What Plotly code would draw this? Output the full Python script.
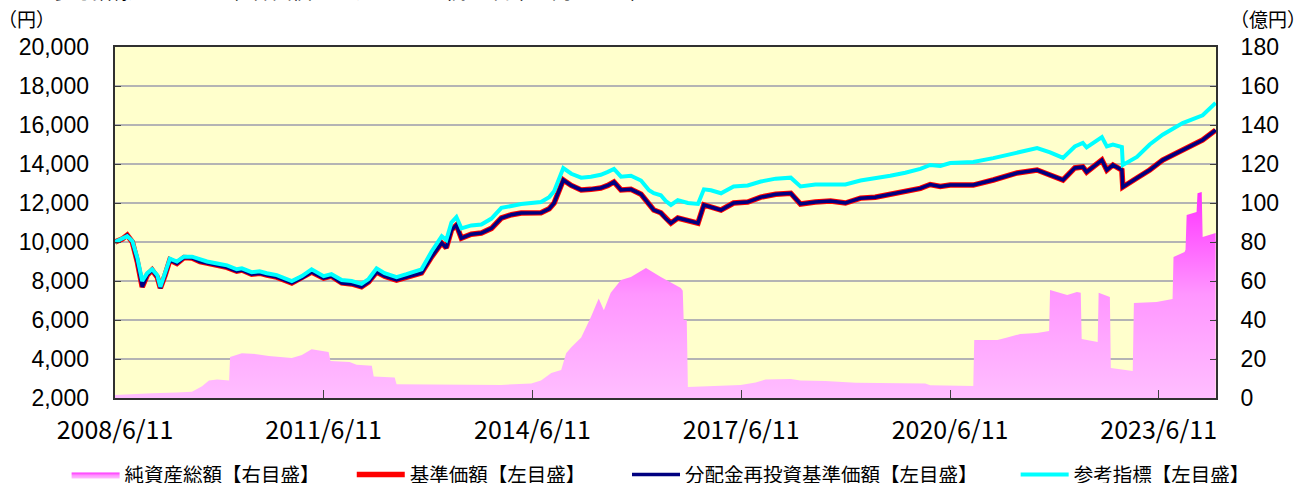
import plotly.graph_objects as go

# ---------------- data ----------------
line_dates = [
    "2008-06-11", "2008-07-18", "2008-08-14", "2008-09-10", "2008-10-06", "2008-11-01",
    "2008-11-27", "2008-12-23", "2009-01-19", "2009-02-04", "2009-03-01", "2009-03-26",
    "2009-05-02", "2009-06-08", "2009-07-20", "2009-08-31", "2009-10-07", "2009-11-29",
    "2010-01-20", "2010-03-12", "2010-04-08", "2010-05-29", "2010-07-10", "2010-08-17",
    "2010-10-08", "2010-12-26", "2011-02-17", "2011-04-09", "2011-06-11", "2011-07-22",
    "2011-09-14", "2011-11-05", "2011-12-27", "2012-02-02", "2012-03-15", "2012-04-26",
    "2012-06-28", "2012-08-19", "2012-11-06", "2012-12-28", "2013-02-20", "2013-03-16",
    "2013-04-12", "2013-05-08", "2013-06-03", "2013-07-25", "2013-09-16", "2013-11-08",
    "2013-12-30", "2014-02-21", "2014-04-13", "2014-07-26", "2014-09-07", "2014-10-03",
    "2014-10-29", "2014-11-20", "2015-01-01", "2015-02-22", "2015-04-14", "2015-06-05",
    "2015-07-12", "2015-08-13", "2015-09-19", "2015-11-10", "2016-01-02", "2016-02-13",
    "2016-03-09", "2016-04-15", "2016-05-11", "2016-06-07", "2016-07-13", "2016-09-04",
    "2016-10-27", "2016-11-27", "2017-01-03", "2017-02-25", "2017-05-02", "2017-07-15",
    "2017-09-22", "2017-12-09", "2018-02-26", "2018-04-18", "2018-07-05", "2018-09-23",
    "2018-12-10", "2019-02-27", "2019-05-15", "2019-08-02", "2019-10-20", "2020-01-07",
    "2020-02-28", "2020-04-21", "2020-06-12", "2020-10-11", "2021-01-24", "2021-05-29",
    "2021-09-11", "2021-11-18", "2022-01-25", "2022-03-28", "2022-05-09", "2022-05-29",
    "2022-07-10", "2022-08-17", "2022-09-12", "2022-10-14", "2022-11-30", "2022-12-05",
    "2023-02-17", "2023-04-25", "2023-07-02", "2023-10-15", "2024-01-28", "2024-04-05",
]

# 基準価額【左目盛】 (円)
nav_values = [
    10000, 10150, 10350, 10000, 9000, 7700,
    8300, 8560, 8200, 7640, 8300, 9080,
    8900, 9200, 9180, 9000, 8920, 8800,
    8700, 8500, 8560, 8350, 8400, 8300,
    8200, 7900, 8150, 8460, 8150, 8250,
    7900, 7850, 7700, 7950, 8460, 8250,
    8050, 8200, 8410, 9230, 9950, 9700,
    10620, 10870, 10200, 10400, 10460, 10700,
    11230, 11400, 11490, 11500, 11700, 12000,
    12700, 13180, 12900, 12670, 12700, 12770,
    12900, 13080, 12670, 12700, 12450, 11900,
    11640, 11500, 11200, 10970, 11230, 11100,
    10970, 11900, 11800, 11640, 12000, 12050,
    12300, 12450, 12500, 11950, 12050, 12100,
    12000, 12250, 12300, 12450, 12600, 12750,
    12950, 12850, 12920, 12920, 13180, 13540,
    13690, 13440, 13180, 13800, 13850, 13590,
    13900, 14200, 13690, 13950, 13690, 12820,
    13280, 13690, 14200, 14720, 15230, 15740,
]

# 分配金再投資基準価額【左目盛】 (円) - no distributions, identical to NAV
reinvest_values = [
    10000, 10150, 10350, 10000, 9000, 7700,
    8300, 8560, 8200, 7640, 8300, 9080,
    8900, 9200, 9180, 9000, 8920, 8800,
    8700, 8500, 8560, 8350, 8400, 8300,
    8200, 7900, 8150, 8460, 8150, 8250,
    7900, 7850, 7700, 7950, 8460, 8250,
    8050, 8200, 8410, 9230, 9950, 9700,
    10620, 10870, 10200, 10400, 10460, 10700,
    11230, 11400, 11490, 11500, 11700, 12000,
    12700, 13180, 12900, 12670, 12700, 12770,
    12900, 13080, 12670, 12700, 12450, 11900,
    11640, 11500, 11200, 10970, 11230, 11100,
    10970, 11900, 11800, 11640, 12000, 12050,
    12300, 12450, 12500, 11950, 12050, 12100,
    12000, 12250, 12300, 12450, 12600, 12750,
    12950, 12850, 12920, 12920, 13180, 13540,
    13690, 13440, 13180, 13800, 13850, 13590,
    13900, 14200, 13690, 13950, 13690, 12820,
    13280, 13690, 14200, 14720, 15230, 15740,
]

# 参考指標【左目盛】
benchmark_values = [
    10000, 10150, 10300, 10050, 9200, 8000,
    8400, 8600, 8300, 7700, 8400, 9150,
    9000, 9250, 9250, 9100, 9000, 8900,
    8800, 8600, 8650, 8450, 8500, 8400,
    8300, 8000, 8250, 8600, 8250, 8350,
    8050, 8000, 7850, 8100, 8650, 8400,
    8200, 8350, 8600, 9500, 10300, 10100,
    11000, 11280, 10700, 10850, 10900, 11200,
    11750, 11850, 11950, 12050, 12300, 12600,
    13300, 13790, 13500, 13300, 13350, 13450,
    13600, 13750, 13350, 13400, 13150, 12650,
    12500, 12400, 12100, 11900, 12150, 12000,
    11950, 12700, 12650, 12500, 12850, 12900,
    13100, 13250, 13300, 12850, 12950, 12950,
    12950, 13150, 13250, 13400, 13550, 13750,
    13950, 13900, 14050, 14100, 14300, 14560,
    14820, 14600, 14310, 14900, 15080, 14850,
    15100, 15380, 14900, 15000, 14870, 13950,
    14360, 15000, 15500, 16100, 16500, 17130,
]

# 純資産総額【右目盛】 (億円)
aum_dates = [
    "2008-06-11", "2008-09-10", "2008-12-23", "2009-05-02", "2009-07-20", "2009-09-11",
    "2009-10-17", "2009-11-29", "2010-01-31", "2010-02-05", "2010-04-08", "2010-06-25",
    "2010-08-27", "2010-12-26", "2011-02-17", "2011-04-09", "2011-05-31", "2011-07-07",
    "2011-07-17", "2011-10-25", "2011-12-01", "2012-02-19", "2012-02-29", "2012-06-18",
    "2012-06-28", "2013-04-12", "2013-12-30", "2014-06-05", "2014-07-26", "2014-09-18",
    "2014-11-09", "2014-12-05", "2015-01-01", "2015-02-22", "2015-04-14", "2015-05-25",
    "2015-06-21", "2015-07-27", "2015-09-19", "2015-11-10", "2016-01-28", "2016-04-15",
    "2016-06-07", "2016-07-29", "2016-08-08", "2016-08-13", "2016-08-29", "2016-09-04",
    "2017-06-08", "2017-08-26", "2017-10-17", "2018-02-26", "2018-04-18", "2018-08-27",
    "2019-02-01", "2020-02-02", "2020-02-28", "2020-10-11", "2020-10-16", "2021-02-15",
    "2021-04-07", "2021-06-14", "2021-09-11", "2021-11-13", "2021-11-18", "2022-02-16",
    "2022-04-08", "2022-04-28", "2022-05-03", "2022-07-26", "2022-07-31", "2022-09-28",
    "2022-10-03", "2023-01-26", "2023-02-01", "2023-05-31", "2023-08-23", "2023-08-28",
    "2023-10-25", "2023-10-30", "2023-11-05", "2023-12-27", "2024-01-01", "2024-01-23",
    "2024-01-28", "2024-04-05",
]
aum_values = [
    1.5, 2.0, 2.5, 2.8, 3.2, 6.0,
    9.0, 9.5, 9.0, 21.0, 23.0, 22.5,
    21.5, 20.5, 22.0, 25.0, 24.0, 23.6,
    19.0, 18.5, 17.0, 16.5, 11.0, 10.5,
    7.0, 6.8, 6.7, 7.5, 9.0, 12.8,
    14.4, 23.0, 26.0, 31.0, 41.5, 51.0,
    45.0, 54.0, 60.5, 62.0, 66.7, 62.0,
    59.0, 56.4, 55.0, 40.0, 40.0, 5.6,
    6.7, 8.0, 9.5, 9.7, 9.0, 8.7,
    7.8, 7.5, 6.5, 6.2, 29.7, 29.7,
    31.0, 32.8, 33.3, 34.4, 55.4, 52.8,
    54.4, 54.0, 30.3, 28.7, 54.0, 51.8,
    15.4, 13.8, 48.7, 49.2, 50.8, 72.3,
    74.9, 76.0, 93.8, 95.4, 105.0, 105.6,
    82.6, 84.6,
]

tick_dates = ["2008-06-11", "2011-06-11", "2014-06-11", "2017-06-11", "2020-06-11", "2023-06-11"]
tick_labels = ["2008/6/11", "2011/6/11", "2014/6/11", "2017/6/11", "2020/6/11", "2023/6/11"]

left_ticks = list(range(2000, 20001, 2000))
right_ticks = list(range(0, 181, 20))

names = ["純資産総額【右目盛】", "基準価額【左目盛】", "分配金再投資基準価額【左目盛】", "参考指標【左目盛】"]
title_text = "参考指標：ＦＴＳＥ世界国債インデックス（除く日本、円ベース）"

# ---------------- figure ----------------
JP = "Noto Sans CJK JP"
NUM = "Liberation Sans, Arial, sans-serif"

fig = go.Figure()

fig.add_trace(go.Scatter(
    x=aum_dates, y=aum_values, name=names[0], mode="lines",
    line=dict(width=0, color="#FF66FF"), fill="tozeroy",
    fillgradient=dict(type="vertical", start=0, stop=106,
                      colorscale=[[0, "#FFBEFF"], [0.5, "#FF96FF"], [1, "#FF30FF"]]),
    yaxis="y", legend="legend", hoverinfo="skip",
))
fig.add_trace(go.Scatter(
    x=line_dates, y=nav_values, name=names[1], mode="lines",
    line=dict(width=5.5, color="#FF0000"), yaxis="y2", legend="legend2",
))
fig.add_trace(go.Scatter(
    x=line_dates, y=reinvest_values, name=names[2], mode="lines",
    line=dict(width=3.5, color="#000080"), yaxis="y2", legend="legend3",
))
fig.add_trace(go.Scatter(
    x=line_dates, y=benchmark_values, name=names[3], mode="lines",
    line=dict(width=4, color="#00FFFF"), yaxis="y2", legend="legend4",
))

legend_common = dict(orientation="h", yanchor="middle", y=-0.219, xanchor="left",
                     bgcolor="rgba(0,0,0,0)", borderwidth=5, bordercolor="rgba(0,0,0,0)",
                     itemwidth=48,
                     font=dict(family=JP, size=19.5, color="#000000"))

fig.update_layout(
    template="none",
    width=1304, height=483,
    margin=dict(l=115, r=88, t=47, b=85, autoexpand=False),
    paper_bgcolor="#FFFFFF",
    plot_bgcolor="#FFFFCC",
    showlegend=True,
    legend=dict(x=-0.0485, **legend_common),
    legend2=dict(x=0.2105, **legend_common),
    legend3=dict(x=0.4605, **legend_common),
    legend4=dict(x=0.8135, **legend_common),
    xaxis=dict(
        type="date", range=["2008-06-11", "2024-04-07"],
        tickmode="array", tickvals=tick_dates, ticktext=tick_labels,
        ticks="inside", ticklen=8, tickwidth=1, tickcolor="#404040",
        tickfont=dict(family=JP, size=25, color="#000000"),
        ticklabelstandoff=9,
        showgrid=False, zeroline=False,
        showline=True, linecolor="#303030", linewidth=2, mirror=True,
    ),
    yaxis=dict(
        side="right", range=[0, 180], tickmode="array", tickvals=right_ticks,
        ticks="inside", ticklen=6, tickwidth=1, tickcolor="#404040",
        tickfont=dict(family=NUM, size=23, color="#000000"),
        ticklabelstandoff=18,
        showgrid=True, gridcolor="#B4B4B4", gridwidth=1.5, zeroline=False,
        showline=True, linecolor="#303030", linewidth=2, mirror=True,
    ),
    yaxis2=dict(
        side="left", overlaying="y", range=[2000, 20000],
        tickmode="array", tickvals=left_ticks, tickformat=",d",
        ticks="inside", ticklen=6, tickwidth=1, tickcolor="#404040",
        tickfont=dict(family=NUM, size=23, color="#000000"),
        ticklabelstandoff=25,
        showgrid=False, zeroline=False, showline=False,
    ),
    annotations=[
        dict(text=title_text, xref="paper", yref="paper", x=-0.059, y=1.162,
             xanchor="left", yanchor="middle", showarrow=False,
             font=dict(family=JP, size=20, color="#000000")),
        dict(text="（円）", xref="paper", yref="paper", x=-0.108, y=1.0826,
             xanchor="left", yanchor="middle", showarrow=False,
             font=dict(family=JP, size=19, color="#000000")),
        dict(text="（億円）", xref="paper", yref="paper", x=1.0836, y=1.0826,
             xanchor="right", yanchor="middle", showarrow=False,
             font=dict(family=JP, size=19, color="#000000")),
    ],
)

fig.write_html(
    "out.html",
    config={"displayModeBar": False},
    post_script="document.body.style.margin='0';document.body.style.padding='0';",
)
